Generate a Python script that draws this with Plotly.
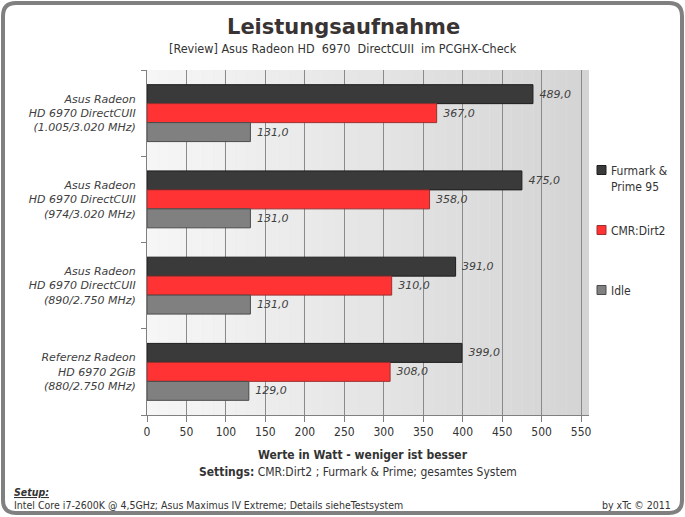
import plotly.graph_objects as go

categories = [
    "Asus Radeon<br>HD 6970 DirectCUII<br>(1.005/3.020 MHz)",
    "Asus Radeon<br>HD 6970 DirectCUII<br>(974/3.020 MHz)",
    "Asus Radeon<br>HD 6970 DirectCUII<br>(890/2.750 MHz)",
    "Referenz Radeon<br>HD 6970 2GiB<br>(880/2.750 MHz)",
]
furmark = [489.0, 475.0, 391.0, 399.0]
cmr = [367.0, 358.0, 310.0, 308.0]
idle = [131.0, 131.0, 131.0, 129.0]
series_names = ["Furmark &<br>Prime 95", "CMR:Dirt2", "Idle"]
x_ticks = [0, 50, 100, 150, 200, 250, 300, 350, 400, 450, 500, 550]

W, H = 685, 517
L, R, T, B = 147, 589, 70, 415


def px(x):
    return (x - L) / (R - L)


def py(y):
    return (B - y) / (B - T)


def fmt(v):
    return f"{v:.1f}".replace(".", ",")


series = [
    (series_names[0], furmark, "#3a3a3a", "#1e1e1e"),
    (series_names[1], cmr, "#ff3333", "#9a3030"),
    (series_names[2], idle, "#808080", "#4a4a4a"),
]

fig = go.Figure()
for name, vals, fill, edge in series:
    fig.add_trace(go.Bar(
        y=categories, x=vals, orientation="h", name=name.replace("<br>", " "),
        marker=dict(color=fill, line=dict(color=edge, width=1)),
        text=[fmt(v) for v in vals], textposition="outside",
        textfont=dict(family="DejaVu Sans", size=11, color="#404040"),
        texttemplate="<i> %{text}</i>", cliponaxis=False,
        showlegend=False,
    ))

shapes = []
# plot background gradient
n = 40
for i in range(n):
    t = i / (n - 1)
    c = int(round(246 - t * (246 - 212)))
    shapes.append(dict(type="rect", xref="x domain", yref="y domain",
                       x0=i / n, x1=(i + 1) / n, y0=0, y1=1,
                       fillcolor=f"rgb({c},{c},{c})", line=dict(width=0),
                       layer="below"))
# rounded frame
x0, x1, y0, y1, r = 3, 682, 3, 513, 13
path = (f"M {px(x0 + r)},{py(y0)} L {px(x1 - r)},{py(y0)} "
        f"Q {px(x1)},{py(y0)} {px(x1)},{py(y0 + r)} "
        f"L {px(x1)},{py(y1 - r)} Q {px(x1)},{py(y1)} {px(x1 - r)},{py(y1)} "
        f"L {px(x0 + r)},{py(y1)} Q {px(x0)},{py(y1)} {px(x0)},{py(y1 - r)} "
        f"L {px(x0)},{py(y0 + r)} Q {px(x0)},{py(y0)} {px(x0 + r)},{py(y0)} Z")
shapes.append(dict(type="path", xref="paper", yref="paper", path=path,
                   line=dict(color="#808080", width=4)))

txt = dict(family="DejaVu Sans Condensed", size=12, color="#333333")
small = dict(family="DejaVu Sans Condensed", size=10.5, color="#333333")
annotations = [
    dict(text="<b>Leistungsaufnahme</b>", x=px(343), y=py(27), xref="paper", yref="paper",
         showarrow=False, font=dict(family="DejaVu Sans", size=21, color="#3a3333"),
         xanchor="center", yanchor="middle"),
    dict(text="[Review] Asus Radeon HD  6970  DirectCUII  im PCGHX-Check", x=px(343), y=py(48),
         xref="paper", yref="paper", showarrow=False,
         font=dict(family="DejaVu Sans Condensed", size=12.5, color="#333333"),
         xanchor="center", yanchor="middle"),
    dict(text="<b>Werte in Watt - weniger ist besser</b>", x=px(363), y=py(455),
         xref="paper", yref="paper", showarrow=False, font=txt,
         xanchor="center", yanchor="middle"),
    dict(text="<b>Settings:</b> CMR:Dirt2 ; Furmark & Prime; gesamtes System", x=px(358), y=py(472),
         xref="paper", yref="paper", showarrow=False, font=txt,
         xanchor="center", yanchor="middle"),
    dict(text="<b><i><u>Setup:</u></i></b>", x=px(12), y=py(492),
         xref="paper", yref="paper", showarrow=False, font=small,
         xanchor="left", yanchor="middle"),
    dict(text="Intel Core i7-2600K @ 4,5GHz; Asus Maximus IV Extreme; Details sieheTestsystem",
         x=px(12), y=py(505), xref="paper", yref="paper", showarrow=False, font=small,
         xanchor="left", yanchor="middle"),
    dict(text="by xTc © 2011", x=px(673), y=py(505), xref="paper", yref="paper",
         showarrow=False, font=small, xanchor="right", yanchor="middle"),
]

# legend drawn as marker squares + text
legend_y = [170, 230, 290]
for (name, vals, fill, edge), ly in zip(series, legend_y):
    shapes.append(dict(type="rect", xref="paper", yref="paper",
                       x0=px(597), x1=px(606), y0=py(ly + 4.5), y1=py(ly - 4.5),
                       fillcolor=fill, line=dict(color=edge, width=1)))
    annotations.append(dict(text=name, x=px(609), y=py(ly - 8), xref="paper", yref="paper",
                            showarrow=False, xanchor="left", yanchor="top", align="left",
                            font=dict(family="DejaVu Sans Condensed", size=12, color="#333333")))

fig.update_layout(
    width=W, height=H,
    margin=dict(l=L, r=W - R, t=T, b=H - B, pad=0),
    paper_bgcolor="white", plot_bgcolor="#e6e6e6",
    barmode="group", bargap=0.34, bargroupgap=0,
    showlegend=False,
    shapes=shapes, annotations=annotations,
    xaxis=dict(range=[0, 560], tickvals=x_ticks, showgrid=True, gridcolor="#8a8a8a",
               gridwidth=1, showline=True, linecolor="#808080", ticks="outside",
               ticklen=6, tickcolor="#808080", zeroline=False,
               tickfont=dict(family="DejaVu Sans Condensed", size=12, color="#333333")),
    yaxis=dict(type="category", autorange="reversed", showline=True, linecolor="#808080",
               ticks="outside", tickson="boundaries", ticklen=5, tickcolor="#808080",
               showgrid=False, ticklabelstandoff=8,
               tickfont=dict(family="DejaVu Sans", size=11, color="#404040")),
)
fig.update_yaxes(ticktext=[f"<i>{c}</i>" for c in categories], tickvals=categories)

fig.write_html("out.html")
